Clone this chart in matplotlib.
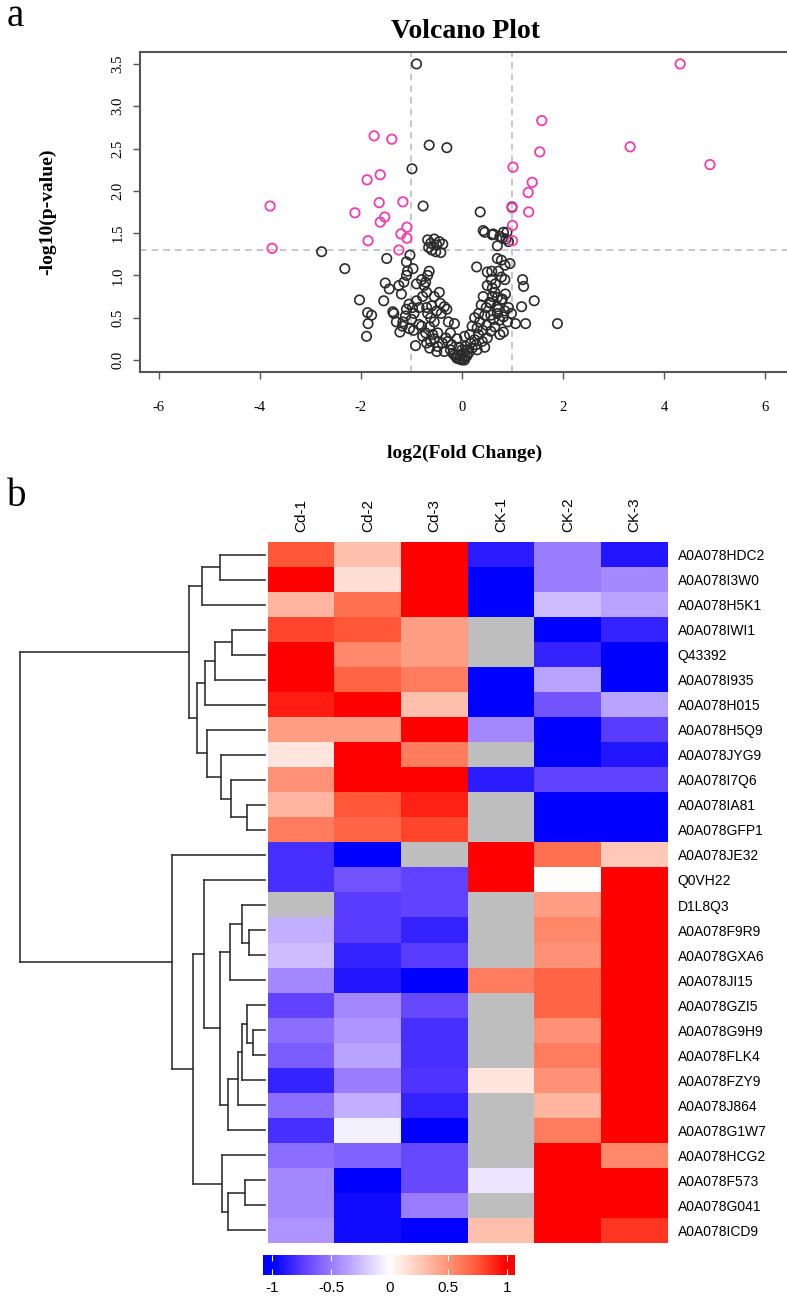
import numpy as np
import matplotlib.pyplot as plt
from matplotlib.colors import LinearSegmentedColormap, Normalize

plt.rcParams["axes.unicode_minus"] = False
W, H = 787, 1296

# ---- volcano data: log2 fold change / -log10 p ----
sig_fc = [-3.80, -3.76, -1.74, -1.39, -1.88, -1.62, -2.12, -1.64, -1.17, -1.53, -1.62,
          -1.09, -1.21, -1.09, -1.86, -1.25,
          4.32, 1.58, 1.54, 3.33, 4.91, 1.01, 1.39, 1.31, 1.32, 0.99, 1.00, 1.00]
sig_p = [1.82, 1.32, 2.65, 2.61, 2.13, 2.19, 1.74, 1.86, 1.87, 1.69, 1.63,
         1.57, 1.49, 1.44, 1.41, 1.30,
         3.50, 2.83, 2.46, 2.52, 2.31, 2.28, 2.10, 1.98, 1.75, 1.80, 1.59, 1.41]

ns_fc = [
    # sparse upper points
    -0.90, -0.65, -0.30, -0.99, -0.77, 0.36, 0.99,
    0.42, 0.62, 0.80, 0.87, 0.89, 0.45, 0.60, 0.75, 0.82, 0.70, 0.92,
    -0.68, -0.62, -0.55, -0.50, -0.45, -0.60, -0.52, -0.42, -0.66, -0.38,
    # left, middle height
    -2.78, -2.32, -1.49, -1.10, -1.03, -0.97, -1.52, -1.44, -1.25, -1.15, -1.10, -1.08,
    -1.20, -0.90, -0.80, -0.75, -0.72, -0.68, -0.65, -2.03, -1.55, -1.87, -1.79, -1.86,
    -1.89, -1.37, -1.35, -1.10, -1.05, -0.98, -0.95, -0.70, -0.68, -0.62, -0.60, -1.30,
    -1.18,
    # left, low
    -1.23, -1.17, -1.04, -0.96, -0.80, -0.72, -0.64, -0.48, -0.62, -0.39, -0.23, -0.15,
    -0.27, -0.41, -0.35, -0.43, -0.92, -0.64, -0.48, -0.35, -0.23, -0.15,
    -0.85, -0.78, -0.70, -0.58, -0.55, -0.85, -0.90, -0.78, -0.70, -0.55, -0.45, -0.50,
    -1.00, -1.12, -0.30,
    # right, low
    0.09, 0.17, 0.25, 0.33, 0.41, 0.49, 0.57, 0.65, 0.74, 0.82, 0.90, 0.98, 1.06, 1.26,
    0.82, 0.33, 0.45, 0.57, 0.69, 0.57, 0.78, 1.18,
    0.35, 0.38, 0.42, 0.48, 0.62, 0.70, 0.75, 0.92, 0.30, 0.25, 0.20,
    # right, middle height
    0.29, 0.50, 0.59, 0.70, 0.78, 0.85, 0.95, 0.72, 0.78, 0.85, 1.20, 1.22, 1.43, 1.89,
    0.50, 0.60, 0.65, 0.60, 0.70, 0.80, 0.86, 0.55, 0.72, 0.85, 0.66, 0.58,
    # dense core
    -0.10, -0.05, 0.00, 0.03, 0.06, -0.08, 0.02, -0.03, 0.05, -0.12, 0.10, -0.18, 0.14,
    0.00, -0.06, 0.07, -0.20, 0.20, -0.28, 0.28, -0.32, 0.30, -0.55, -0.50, 0.40, 0.45,
    0.50, 0.15, -0.10, 0.05,
]
ns_p = [
    3.50, 2.54, 2.51, 2.26, 1.82, 1.75, 1.81,
    1.53, 1.49, 1.44, 1.43, 1.51, 1.51, 1.48, 1.46, 1.51, 1.35, 1.40,
    1.42, 1.38, 1.43, 1.36, 1.40, 1.30, 1.28, 1.27, 1.33, 1.37,
    1.28, 1.08, 1.20, 1.16, 1.24, 1.08, 0.91, 0.84, 0.88, 0.92, 1.00, 1.05,
    0.78, 0.90, 0.95, 0.88, 0.92, 1.00, 1.05, 0.71, 0.70, 0.56, 0.53, 0.43,
    0.28, 0.57, 0.55, 0.60, 0.66, 0.62, 0.55, 0.62, 0.55, 0.50, 0.64, 0.45,
    0.40,
    0.33, 0.45, 0.37, 0.35, 0.40, 0.32, 0.39, 0.32, 0.22, 0.20, 0.32, 0.43,
    0.45, 0.55, 0.63, 0.67, 0.17, 0.14, 0.16, 0.10, 0.12, 0.06,
    0.42, 0.28, 0.20, 0.30, 0.45, 0.62, 0.70, 0.75, 0.80, 0.75, 0.80, 0.58,
    0.48, 0.52, 0.60,
    0.12, 0.20, 0.24, 0.30, 0.35, 0.41, 0.34, 0.39, 0.47, 0.51, 0.45, 0.55, 0.43, 0.43,
    0.33, 0.55, 0.53, 0.53, 0.63, 0.67, 0.71, 0.63,
    0.45, 0.65, 0.75, 0.62, 0.48, 0.55, 0.30, 0.62, 0.38, 0.50, 0.40,
    1.10, 1.04, 1.05, 1.20, 1.18, 1.12, 1.14, 1.05, 0.98, 0.95, 0.95, 0.87, 0.70, 0.43,
    0.88, 0.85, 0.80, 0.75, 0.74, 0.72, 0.78, 0.68, 0.60, 0.58, 0.90, 0.95,
    0.02, 0.01, 0.00, 0.02, 0.04, 0.06, 0.08, 0.05, 0.00, 0.04, 0.05, 0.08, 0.09,
    0.12, 0.15, 0.16, 0.18, 0.14, 0.22, 0.18, 0.26, 0.12, 0.25, 0.10, 0.22, 0.15,
    0.26, 0.30, 0.25, 0.28,
]

# ---- heatmap data ----
samples = ["Cd-1", "Cd-2", "Cd-3", "CK-1", "CK-2", "CK-3"]
proteins = ["A0A078HDC2", "A0A078I3W0", "A0A078H5K1", "A0A078IWI1", "Q43392",
            "A0A078I935", "A0A078H015", "A0A078H5Q9", "A0A078JYG9", "A0A078I7Q6",
            "A0A078IA81", "A0A078GFP1", "A0A078JE32", "Q0VH22", "D1L8Q3",
            "A0A078F9R9", "A0A078GXA6", "A0A078JI15", "A0A078GZI5", "A0A078G9H9",
            "A0A078FLK4", "A0A078FZY9", "A0A078J864", "A0A078G1W7", "A0A078HCG2",
            "A0A078F573", "A0A078G041", "A0A078ICD9"]
na = np.nan
expr = [
    [0.75, 0.30, 1.00, -0.88, -0.50, -0.90],
    [1.00, 0.15, 1.00, -1.00, -0.50, -0.45],
    [0.35, 0.65, 1.00, -1.00, -0.25, -0.35],
    [0.80, 0.75, 0.45, na, -1.00, -0.85],
    [1.00, 0.55, 0.45, na, -0.85, -1.00],
    [1.00, 0.70, 0.60, -1.00, -0.35, -1.00],
    [0.92, 1.00, 0.30, -1.00, -0.65, -0.35],
    [0.45, 0.45, 1.00, -0.45, -1.00, -0.75],
    [0.12, 1.00, 0.60, na, -1.00, -0.90],
    [0.50, 1.00, 1.00, -0.88, -0.72, -0.72],
    [0.35, 0.75, 0.90, na, -1.00, -1.00],
    [0.60, 0.70, 0.80, na, -1.00, -1.00],
    [-0.80, -1.00, na, 1.00, 0.65, 0.25],
    [-0.80, -0.65, -0.72, 1.00, 0.00, 1.00],
    [na, -0.75, -0.72, na, 0.45, 1.00],
    [-0.30, -0.75, -0.85, na, 0.55, 1.00],
    [-0.25, -0.85, -0.75, na, 0.50, 1.00],
    [-0.45, -0.90, -1.00, 0.60, 0.70, 1.00],
    [-0.72, -0.45, -0.70, na, 0.70, 1.00],
    [-0.55, -0.40, -0.80, na, 0.50, 1.00],
    [-0.62, -0.35, -0.80, na, 0.60, 1.00],
    [-0.85, -0.50, -0.78, 0.12, 0.50, 1.00],
    [-0.55, -0.30, -0.85, na, 0.35, 1.00],
    [-0.80, -0.05, -1.00, na, 0.60, 1.00],
    [-0.55, -0.60, -0.70, na, 1.00, 0.55],
    [-0.45, -1.00, -0.70, -0.10, 1.00, 1.00],
    [-0.45, -0.95, -0.50, na, 1.00, 1.00],
    [-0.40, -0.95, -1.00, 0.30, 1.00, 0.85],
]

# row dendrogram merges: (child a, child b, height); ids >= 28 are earlier merges
merges = [
    (0, 1, 45), (28, 2, 63), (3, 4, 33), (30, 5, 50), (31, 6, 60),
    (10, 11, 18), (9, 33, 34), (8, 34, 44), (7, 35, 58), (32, 36, 68),
    (29, 37, 76),
    (15, 16, 16), (14, 39, 23), (40, 17, 35), (19, 20, 12), (18, 42, 18),
    (43, 21, 23), (44, 22, 27), (45, 23, 37), (41, 46, 45), (13, 47, 61),
    (25, 26, 20), (49, 27, 37), (24, 50, 43), (48, 51, 72), (12, 52, 93),
    (38, 53, 245),
]


def rect(l, t, r, b):
    return [l / W, 1 - b / H, (r - l) / W, (b - t) / H]


fig = plt.figure(figsize=(W / 100, H / 100), dpi=100)
serif = "Liberation Serif"
sans = "Liberation Sans"

# ---------------- panel a ----------------
ax = fig.add_axes(rect(140, 52, 790, 372))
ax.scatter(ns_fc, ns_p, s=46, facecolors="none", edgecolors="#2b2b2b", linewidths=1.2, zorder=3)
ax.scatter(sig_fc, sig_p, s=46, facecolors="none", edgecolors="#ee3fae", linewidths=1.3, zorder=4)
for xv in (-1, 1):
    ax.axvline(xv, color="#bdbdbd", ls=(0, (4, 3)), lw=1.2, zorder=1)
ax.axhline(-np.log10(0.05), color="#bdbdbd", ls=(0, (4, 3)), lw=1.2, zorder=1)
ax.set_xlim(-6.376, 6.495)
ax.set_ylim(-0.142, 3.641)
ax.set_xticks(range(-6, 7, 2))
ax.set_yticks(np.arange(0, 3.51, 0.5))
ax.set_yticklabels(["%.1f" % v for v in np.arange(0, 3.51, 0.5)], rotation=90, va="center")
for sp in ax.spines.values():
    sp.set_color("#555555")
    sp.set_linewidth(1.5)
ax.tick_params(length=5, width=1, color="#555555", labelsize=10.5)
ax.tick_params(axis="x", pad=16)
ax.tick_params(axis="y", pad=6)
for lab in ax.get_xticklabels() + ax.get_yticklabels():
    lab.set_family(serif)
ax.set_xlabel("log2(Fold Change)", family=serif, weight="bold", fontsize=14, labelpad=22)
ax.set_ylabel("-log10(p-value)", family=serif, weight="bold", fontsize=14, labelpad=40)
ax.set_title("Volcano Plot", family=serif, weight="bold", fontsize=20, pad=10)
fig.text(15 / W, 1 - 16 / H, "a", family=serif, fontsize=28, ha="center", va="center")
fig.text(17 / W, 1 - 497 / H, "b", family=serif, fontsize=28, ha="center", va="center")

# ---------------- panel b ----------------
cmap = LinearSegmentedColormap.from_list(
    "bwr_lab",
    [(0.0, "#0000ff"), (0.125, "#5a3cff"), (0.25, "#9a7cff"), (0.375, "#cdbdff"),
     (0.5, "#ffffff"), (0.625, "#ffcbbb"), (0.75, "#ff9478"), (0.875, "#ff5a3a"),
     (1.0, "#ff0000")])
cmap.set_bad("#bebebe")
norm = Normalize(-1, 1)
data = np.ma.masked_invalid(np.array(expr, dtype=float))
nr, nc = data.shape

axh = fig.add_axes(rect(268, 542, 668, 1243))
axh.imshow(data, cmap=cmap, norm=norm, aspect="auto", interpolation="nearest",
           extent=(-0.5, nc - 0.5, nr - 0.5, -0.5))
axh.set_xticks(range(nc))
axh.set_xticklabels(samples, rotation=90, family=sans, fontsize=11)
axh.xaxis.tick_top()
axh.set_yticks(range(nr))
axh.set_yticklabels(proteins, family=sans, fontsize=10)
axh.yaxis.tick_right()
axh.tick_params(length=0, pad=7)
for sp in axh.spines.values():
    sp.set_visible(False)

# dendrogram
axd = fig.add_axes(rect(0, 542, 268, 1243))
pos = {i: float(i) for i in range(nr)}
hgt = {i: 0.0 for i in range(nr)}
for k, (a, b, h) in enumerate(merges):
    nid = nr + k
    for c in (a, b):
        axd.plot([hgt[c], h], [pos[c], pos[c]], color="#333333", lw=1.2)
    axd.plot([h, h], [pos[a], pos[b]], color="#333333", lw=1.2)
    pos[nid] = (pos[a] + pos[b]) / 2
    hgt[nid] = h
axd.set_xlim(265, -3)
axd.set_ylim(nr - 0.5, -0.5)
axd.axis("off")

# colour key
axc = fig.add_axes(rect(263, 1255, 515, 1275))
grad = np.linspace(-1.08, 1.07, 300)[None, :]
axc.imshow(grad, cmap=cmap, norm=norm, aspect="auto", extent=(-1.08, 1.07, 0, 1))
axc.set_xticks([-1, -0.5, 0, 0.5, 1])
axc.set_xticklabels(["-1", "-0.5", "0", "0.5", "1"], family=sans, fontsize=11)
axc.set_yticks([])
axc.tick_params(axis="x", direction="in", length=4, color="white", top=True, pad=4)
for sp in axc.spines.values():
    sp.set_visible(False)

fig.savefig("out.png", dpi=100)
